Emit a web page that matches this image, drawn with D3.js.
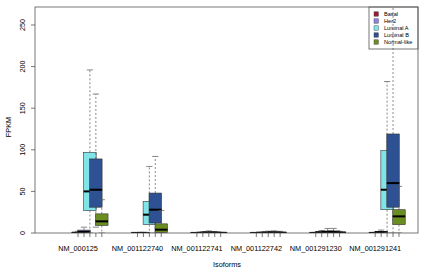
<!DOCTYPE html>
<html>
<head>
<meta charset="utf-8">
<script src="https://cdn.jsdelivr.net/npm/d3@7"></script>
<style>
  html, body { margin: 0; padding: 0; background: #fff; }
  svg { display: block; font-family: "Liberation Sans", Arial, sans-serif; }
</style>
</head>
<body>
<svg id="chart" width="422" height="271"></svg>
<script>
// isoforms along the x axis, subtypes inside each group
const isoforms = ["NM_000125", "NM_001122740", "NM_001122741", "NM_001122742", "NM_001291230", "NM_001291241"];
const subtypes = ["Basal", "Her2", "Luminal A", "Luminal B", "Normal-like"];
const subtypeColors = ["#9b1d33", "#8c82dc", "#80e4e8", "#2d5192", "#6b8e23"];

// box stats per isoform: [lower whisker, q1, median, q3, upper whisker] (FPKM)
const basal = [[0, 0.1, 0.3, 0.8, 2], [0, 0, 0.1, 0.2, 0.5], [0, 0, 0.1, 0.2, 0.5], [0, 0, 0.1, 0.2, 0.5], [0, 0, 0.1, 0.3, 0.8], [0, 0, 0.1, 0.3, 0.8]];
const her2 = [[0, 0.5, 1.5, 3.5, 7], [0, 0, 0.1, 0.3, 0.8], [0, 0.1, 0.3, 0.6, 1.5], [0, 0.1, 0.3, 0.6, 1.2], [0, 0.3, 0.8, 1.5, 3], [0, 0.3, 1, 2, 3.5]];
const luminalA = [[0, 27, 50, 97, 196], [0, 10, 22, 38, 80], [0, 0.2, 0.6, 1.2, 2.5], [0, 0.2, 0.5, 1, 2.2], [0, 0.5, 1.2, 2.5, 5.5], [0, 28, 52, 99, 182]];
const luminalB = [[7, 31, 52, 89, 167], [0, 12, 28, 48, 92], [0, 0.1, 0.4, 0.8, 1.8], [0, 0.2, 0.6, 1.2, 2.6], [0, 0.5, 1.2, 2.5, 5.5], [0, 31, 60, 119, 300]];
const normalLike = [[0, 9, 14, 23, 40], [0, 0.5, 4, 11, 27], [0, 0, 0.2, 0.4, 0.8], [0, 0.1, 0.4, 0.9, 2], [0, 0.2, 0.6, 1, 2], [0, 10, 20, 28, 56]];
const yTicks = [0, 50, 100, 150, 200, 250];

const series = [basal, her2, luminalA, luminalB, normalLike];

const svg = d3.select("#chart");
const plot = { left: 35, right: 418, top: 7, bottom: 233 };

// positions 1..5, 11..15, ... (group gap of 10 units)
const pos = (g, i) => g * 10 + i + 1;
const x = d3.scaleLinear().domain([-6.24, 58.2]).range([plot.left, plot.right]);
const y = d3.scaleLinear().domain([0, 271.6]).range([plot.bottom, plot.top]);
const halfW = (x(1.05) - x(0));

svg.append("clipPath").attr("id", "clip")
    .append("rect")
    .attr("x", plot.left).attr("y", plot.top)
    .attr("width", plot.right - plot.left).attr("height", plot.bottom - plot.top);

const g = svg.append("g").attr("clip-path", "url(#clip)");

// R draws boxes in order, so later ones sit on top
isoforms.forEach((iso, gi) => {
    series.forEach((s, si) => {
        const [lw, q1, med, q3, uw] = s[gi];
        const cx = x(pos(gi, si));
        const b = g.append("g");
        // whiskers
        [[q3, uw], [q1, lw]].forEach(([from, to]) => {
            b.append("line")
                .attr("x1", cx).attr("x2", cx)
                .attr("y1", y(from)).attr("y2", y(to))
                .attr("stroke", "#555").attr("stroke-width", 0.7)
                .attr("stroke-dasharray", "2,2");
            b.append("line")
                .attr("x1", cx - halfW / 2).attr("x2", cx + halfW / 2)
                .attr("y1", y(to)).attr("y2", y(to))
                .attr("stroke", "#555").attr("stroke-width", 0.7);
        });
        // box
        b.append("rect")
            .attr("x", cx - halfW).attr("width", halfW * 2)
            .attr("y", y(q3)).attr("height", Math.max(0.5, y(q1) - y(q3)))
            .attr("fill", subtypeColors[si])
            .attr("stroke", "#333").attr("stroke-width", 0.6);
        // median
        b.append("line")
            .attr("x1", cx - halfW).attr("x2", cx + halfW)
            .attr("y1", y(med)).attr("y2", y(med))
            .attr("stroke", "#000").attr("stroke-width", 2);
    });
});

// frame
svg.append("rect")
    .attr("x", plot.left).attr("y", plot.top)
    .attr("width", plot.right - plot.left).attr("height", plot.bottom - plot.top)
    .attr("fill", "none").attr("stroke", "#555").attr("stroke-width", 0.8);

// y axis
const yAxis = svg.append("g");
yTicks.forEach(t => {
    yAxis.append("line")
        .attr("x1", plot.left - 4).attr("x2", plot.left)
        .attr("y1", y(t)).attr("y2", y(t))
        .attr("stroke", "#555").attr("stroke-width", 0.8);
    yAxis.append("text")
        .attr("transform", `translate(25,${y(t)}) rotate(-90)`)
        .attr("text-anchor", "middle")
        .style("font-size", "7.2px")
        .text(t);
});

// x axis ticks at every box, label under the first box of each group
const xAxis = svg.append("g");
isoforms.forEach((iso, gi) => {
    subtypes.forEach((s, si) => {
        const cx = x(pos(gi, si));
        xAxis.append("line")
            .attr("x1", cx).attr("x2", cx)
            .attr("y1", plot.bottom).attr("y2", plot.bottom + 4)
            .attr("stroke", "#555").attr("stroke-width", 0.8);
    });
    xAxis.append("text")
        .attr("x", x(pos(gi, 0)))
        .attr("y", 250.5)
        .attr("text-anchor", "middle")
        .style("font-size", "7.3px")
        .text(iso);
});

// axis titles
svg.append("text")
    .attr("x", (plot.left + plot.right) / 2 + 0.5)
    .attr("y", 266.5)
    .attr("text-anchor", "middle")
    .style("font-size", "7.3px")
    .text("Isoforms");

svg.append("text")
    .attr("transform", `translate(10.5,${(plot.top + plot.bottom) / 2 + 7}) rotate(-90)`)
    .attr("text-anchor", "middle")
    .style("font-size", "7.3px")
    .text("FPKM");

// legend (no background: the whisker shows through it)
const legend = svg.append("g");
legend.append("rect")
    .attr("x", 369).attr("y", plot.top)
    .attr("width", plot.right - 369).attr("height", 42)
    .attr("fill", "none").attr("stroke", "#555").attr("stroke-width", 0.8);
subtypes.forEach((s, i) => {
    const ly = 14 + i * 7;
    legend.append("rect")
        .attr("x", 374).attr("y", ly - 2.2)
        .attr("width", 4.4).attr("height", 4.4)
        .attr("fill", subtypeColors[i])
        .attr("stroke", "#333").attr("stroke-width", 0.4);
    legend.append("text")
        .attr("x", 384).attr("y", ly + 2)
        .style("font-size", "5.6px")
        .text(s);
});
</script>
</body>
</html>
